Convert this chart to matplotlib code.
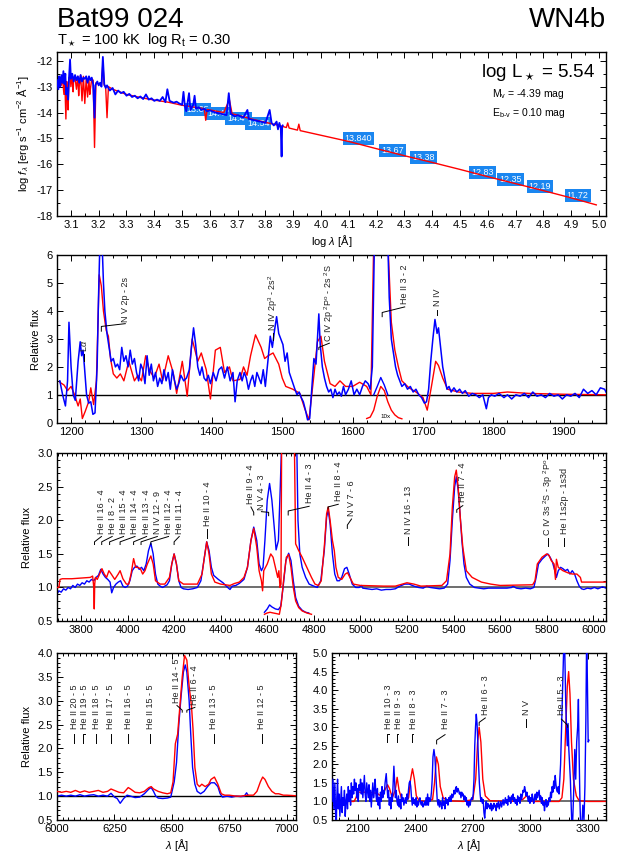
import matplotlib
matplotlib.use('Agg')
import matplotlib.pyplot as plt
from matplotlib.ticker import MultipleLocator, FormatStrFormatter

plt.rcParams['font.family'] = ['Liberation Sans', 'DejaVu Sans']
plt.rcParams['mathtext.fontset'] = 'custom'
plt.rcParams['mathtext.rm'] = 'Liberation Sans'
plt.rcParams['mathtext.it'] = 'Liberation Sans:italic'
plt.rcParams['axes.unicode_minus'] = False

RED = '#ff0000'
BLUE = '#0000ff'
BOX = '#1a86f0'

# ---------------- datos (lambda, flujo) ----------------
# SED: log lambda, log f_lambda
sed_model = [
    (3.050, -12.85), (3.056, -12.75), (3.060, -12.80), (3.065, -12.95), (3.070, -12.70),
    (3.075, -13.30), (3.078, -12.75), (3.082, -14.25), (3.085, -12.80), (3.088, -13.40),
    (3.090, -13.90), (3.093, -12.65), (3.098, -12.60), (3.100, -13.00), (3.105, -12.55),
    (3.108, -13.20), (3.110, -12.70), (3.115, -12.65), (3.120, -13.10), (3.125, -12.60),
    (3.128, -13.35), (3.130, -13.00), (3.135, -12.55), (3.140, -13.55), (3.145, -12.60),
    (3.150, -13.65), (3.155, -12.70), (3.160, -13.40), (3.165, -12.75), (3.168, -13.30),
    (3.170, -13.10), (3.175, -12.70), (3.180, -12.75), (3.185, -15.35), (3.190, -12.85),
    (3.200, -12.90), (3.210, -12.95), (3.215, -12.10), (3.220, -12.95), (3.225, -13.00),
    (3.230, -14.20), (3.235, -13.00), (3.250, -13.10), (3.300, -13.30), (3.350, -13.42),
    (3.400, -13.52), (3.450, -13.60), (3.500, -13.72), (3.550, -13.80), (3.580, -13.85),
    (3.585, -14.30), (3.590, -13.88), (3.650, -14.00), (3.670, -13.50), (3.680, -14.05),
    (3.700, -14.10), (3.750, -14.25), (3.800, -14.38), (3.850, -14.50), (3.875, -14.58),
    (3.880, -14.40), (3.885, -14.60), (3.915, -14.68), (3.920, -14.45), (3.925, -14.70),
    (4.000, -14.88), (4.100, -15.12), (4.200, -15.40), (4.300, -15.67), (4.400, -15.93),
    (4.500, -16.20), (4.600, -16.48), (4.700, -16.75), (4.800, -17.02), (4.900, -17.30),
    (4.990, -17.57),
]
sed_obs = [
    (3.050, -12.75), (3.055, -13.10), (3.058, -12.60), (3.062, -13.00), (3.066, -12.55),
    (3.070, -12.85), (3.073, -12.40), (3.077, -12.90), (3.080, -12.50), (3.083, -13.30),
    (3.086, -13.05), (3.090, -13.50), (3.093, -12.70), (3.097, -11.95), (3.100, -12.70),
    (3.105, -12.50), (3.110, -12.80), (3.115, -12.55), (3.120, -12.75), (3.125, -12.60),
    (3.130, -12.85), (3.135, -12.55), (3.140, -12.80), (3.145, -12.65), (3.150, -12.70),
    (3.155, -12.60), (3.160, -12.85), (3.165, -12.60), (3.170, -12.75), (3.175, -12.65),
    (3.180, -12.90), (3.185, -14.20), (3.188, -12.95), (3.195, -12.80), (3.200, -12.95),
    (3.205, -12.85), (3.210, -13.00), (3.215, -11.85), (3.220, -12.90), (3.225, -13.05),
    (3.230, -12.95), (3.240, -13.15), (3.250, -13.05), (3.260, -13.30), (3.270, -13.15),
    (3.280, -13.25), (3.290, -13.20), (3.300, -13.35), (3.310, -13.28), (3.320, -13.40),
    (3.330, -13.35), (3.340, -13.45), (3.350, -13.38), (3.360, -13.48), (3.370, -13.30),
    (3.380, -13.50), (3.390, -13.45), (3.400, -13.55), (3.410, -13.50), (3.420, -13.55),
    (3.430, -13.40), (3.440, -13.60), (3.447, -13.10), (3.455, -13.55), (3.470, -13.62),
    (3.480, -13.58), (3.490, -13.65), (3.500, -13.70), (3.505, -13.20), (3.510, -13.75),
    (3.515, -13.95), (3.520, -13.60), (3.525, -13.25), (3.530, -13.90), (3.540, -13.70),
    (3.545, -13.35), (3.550, -13.85), (3.560, -13.80), (3.570, -13.90), (3.580, -13.85),
    (3.590, -13.95), (3.600, -13.92), (3.620, -14.00), (3.640, -14.05), (3.660, -14.10),
    (3.668, -13.25), (3.675, -14.05), (3.690, -14.15), (3.700, -14.10), (3.720, -14.20),
    (3.735, -13.90), (3.740, -14.25), (3.760, -14.30), (3.780, -14.35), (3.800, -14.40),
    (3.815, -13.90), (3.822, -14.40), (3.830, -14.50), (3.840, -14.35), (3.845, -14.65),
    (3.850, -14.40), (3.855, -14.60), (3.858, -15.70), (3.860, -14.55), (3.862, -14.50),
]
phot_logl = [3.556, 3.630, 3.702, 3.774, 4.134, 4.257, 4.368, 4.581, 4.682, 4.787, 4.923]
phot_logf = [-13.89, -14.02, -14.23, -14.41, -15.02, -15.45, -15.74, -16.32, -16.58, -16.87, -17.21]
phot_text = ['13.68', '14.44', '14.46', '14.54', '13.840', '13.67', '13.38',
             '12.83', '12.35', '12.19', '11.72']

uv_model = [
    (1184, 1.45), (1190, 1.35), (1195, 1.15), (1200, 1.30), (1205, 1.00), (1210, 0.60),
    (1213, 0.85), (1216, 0.15), (1220, 0.40), (1225, 0.75), (1228, 1.25), (1232, 0.65),
    (1236, 1.50), (1240, 5.30), (1243, 4.90), (1246, 4.00), (1250, 3.30), (1253, 3.10),
    (1256, 2.30), (1260, 1.75), (1265, 1.60), (1270, 1.75), (1275, 1.50), (1282, 2.20),
    (1290, 1.50), (1295, 1.70), (1300, 1.50), (1306, 2.40), (1311, 1.90), (1318, 1.60),
    (1325, 2.10), (1330, 1.50), (1338, 2.40), (1345, 1.80), (1350, 1.05), (1358, 2.20),
    (1365, 0.95), (1372, 3.00), (1380, 2.20), (1385, 2.50), (1392, 1.90), (1398, 0.85),
    (1405, 2.60), (1412, 2.70), (1418, 1.80), (1425, 2.00), (1430, 1.50), (1440, 1.55),
    (1445, 2.00), (1450, 1.70), (1455, 2.40), (1462, 3.15), (1470, 2.70), (1475, 2.30),
    (1480, 2.40), (1487, 2.50), (1495, 2.10), (1500, 1.60), (1505, 1.30), (1515, 1.20),
    (1525, 1.05), (1532, 0.50), (1538, 0.10), (1545, 1.70), (1550, 2.90), (1555, 3.10),
    (1560, 2.20), (1568, 1.40), (1575, 1.30), (1582, 1.50), (1590, 1.30), (1600, 1.30),
    (1610, 1.45), (1620, 1.30), (1626, 1.00), (1630, 6.50), (1650, 6.50), (1655, 3.60),
    (1660, 2.60), (1665, 2.00), (1670, 1.50), (1680, 1.25), (1690, 1.10), (1700, 0.90),
    (1706, 0.45), (1712, 1.30), (1718, 2.20), (1722, 2.05), (1728, 1.60), (1735, 1.20),
    (1750, 1.10), (1770, 1.05), (1800, 1.05), (1820, 1.10), (1850, 1.05), (1900, 1.02),
    (1960, 1.00),
]
uv_obs = [
    (1184, 1.5), (1188, 1.0), (1192, 0.6), (1195, 1.5), (1197, 3.6), (1200, 2.0), (1203, 1.0),
    (1206, 0.8), (1210, 2.2), (1213, 2.9), (1215, 2.4), (1217, 2.6), (1219, 2.0), (1222, 1.0),
    (1225, 0.7), (1228, 0.75), (1231, 0.3), (1234, 0.35), (1237, 2.0), (1239, 4.5), (1241, 6.5),
    (1244, 6.5), (1246, 5.0), (1248, 4.0), (1251, 3.2), (1254, 2.7), (1257, 2.2), (1260, 2.3),
    (1263, 2.0), (1266, 2.1), (1269, 1.9), (1272, 2.7), (1275, 2.2), (1278, 2.4), (1281, 2.0),
    (1284, 2.6), (1287, 2.1), (1290, 2.3), (1293, 1.8), (1296, 1.5), (1299, 2.1), (1302, 1.9),
    (1305, 1.4), (1308, 2.4), (1311, 1.7), (1314, 2.1), (1317, 1.5), (1320, 1.8), (1323, 1.3),
    (1326, 1.6), (1329, 1.4), (1332, 1.9), (1335, 1.5), (1338, 1.8), (1341, 1.2), (1344, 1.9),
    (1347, 1.5), (1350, 1.2), (1353, 1.4), (1356, 1.7), (1360, 1.5), (1364, 1.6), (1368, 1.9),
    (1371, 2.7), (1374, 3.4), (1377, 2.8), (1380, 2.0), (1383, 1.7), (1386, 2.0), (1389, 1.6),
    (1392, 1.5), (1395, 1.7), (1398, 1.4), (1402, 1.8), (1406, 1.5), (1410, 1.9), (1414, 2.0),
    (1418, 1.6), (1422, 2.0), (1426, 1.5), (1430, 1.8), (1433, 0.75), (1436, 1.5), (1440, 1.8),
    (1443, 1.5), (1446, 1.8), (1449, 1.6), (1452, 1.2), (1455, 1.5), (1458, 1.7), (1461, 1.3),
    (1464, 1.8), (1467, 1.6), (1470, 1.4), (1473, 1.9), (1476, 1.3), (1480, 2.3), (1483, 3.1),
    (1486, 2.7), (1489, 3.3), (1492, 3.8), (1495, 3.2), (1498, 3.0), (1501, 2.8), (1504, 2.2),
    (1507, 2.5), (1510, 1.8), (1514, 1.5), (1518, 1.2), (1521, 1.0), (1524, 1.1), (1527, 0.9),
    (1530, 0.75), (1533, 0.45), (1536, 0.1), (1539, 0.15), (1542, 1.2), (1545, 2.3), (1548, 2.1),
    (1550, 3.0), (1552, 3.9), (1554, 2.8), (1557, 2.0), (1560, 1.6), (1563, 1.3), (1566, 1.1),
    (1569, 1.2), (1572, 0.9), (1575, 1.2), (1578, 1.0), (1581, 1.1), (1584, 0.95), (1587, 1.3),
    (1590, 1.0), (1594, 1.2), (1598, 1.5), (1602, 1.0), (1606, 1.2), (1610, 1.0), (1614, 1.3),
    (1618, 1.5), (1622, 1.4), (1625, 1.2), (1628, 2.0), (1631, 6.5), (1650, 6.5), (1652, 4.5),
    (1655, 3.0), (1658, 2.5), (1661, 2.0), (1664, 1.7), (1667, 1.5), (1670, 1.3), (1674, 1.4),
    (1678, 1.2), (1682, 1.3), (1686, 1.1), (1690, 1.2), (1694, 1.0), (1698, 0.9), (1702, 0.7),
    (1705, 0.75), (1708, 1.2), (1711, 2.2), (1714, 3.0), (1717, 3.7), (1720, 3.2), (1722, 3.4),
    (1725, 2.7), (1728, 2.0), (1731, 1.6), (1734, 1.2), (1737, 1.3), (1740, 1.1), (1744, 1.25),
    (1748, 1.1), (1752, 1.2), (1756, 1.05), (1760, 1.15), (1765, 0.95), (1770, 1.05), (1775, 1.0),
    (1780, 0.9), (1785, 1.0), (1790, 0.5), (1793, 0.9), (1797, 1.0), (1802, 0.95), (1808, 1.05),
    (1815, 0.9), (1820, 1.0), (1826, 0.85), (1832, 1.0), (1838, 0.95), (1844, 1.05), (1850, 0.9),
    (1856, 1.1), (1862, 0.95), (1868, 1.0), (1874, 0.9), (1880, 1.05), (1886, 0.95), (1892, 1.0),
    (1898, 0.85), (1904, 1.0), (1910, 0.95), (1916, 1.05), (1922, 0.9), (1928, 1.2), (1934, 1.05),
    (1940, 1.15), (1946, 1.0), (1952, 1.25), (1958, 1.2), (1960, 1.1),
]
uv_inset_model = [
    (1620, 0.15), (1625, 0.20), (1630, 0.45), (1635, 0.95), (1640, 1.30), (1645, 1.15),
    (1650, 0.75), (1655, 0.45), (1660, 0.28), (1665, 0.18), (1670, 0.14),
]
uv_inset_obs = [(1630, 1.0), (1635, 1.3), (1640, 1.62), (1645, 1.35), (1650, 1.0)]

opt_model = [
    (3697, 1.00), (3705, 1.00), (3710, 1.12), (3720, 1.13), (3760, 1.13), (3800, 1.14),
    (3840, 1.15), (3850, 1.17), (3855, 1.00), (3857, 0.68), (3859, 1.05), (3862, 1.15),
    (3870, 1.12), (3880, 1.20), (3890, 1.28), (3900, 1.20), (3910, 1.15), (3920, 1.25),
    (3930, 1.20), (3945, 1.12), (3960, 1.20), (3968, 1.25), (3980, 1.13), (3995, 1.05),
    (4005, 1.05), (4015, 1.20), (4026, 1.43), (4035, 1.30), (4045, 1.30), (4055, 1.28),
    (4065, 1.20), (4075, 1.25), (4085, 1.35), (4100, 1.47), (4110, 1.35), (4120, 1.10),
    (4140, 1.05), (4160, 1.05), (4180, 1.15), (4190, 1.35), (4200, 1.50), (4210, 1.35),
    (4220, 1.10), (4240, 1.05), (4260, 1.05), (4300, 1.05), (4320, 1.20), (4330, 1.45),
    (4340, 1.68), (4350, 1.50), (4360, 1.20), (4375, 1.08), (4400, 1.05), (4440, 1.03),
    (4460, 1.06), (4480, 1.08), (4500, 1.15), (4515, 1.30), (4530, 1.70), (4542, 1.88),
    (4555, 1.60), (4565, 1.25), (4575, 1.10), (4580, 0.95), (4585, 1.25), (4600, 1.35),
    (4615, 1.50), (4625, 1.45), (4635, 1.30), (4645, 1.15), (4650, 1.25), (4655, 1.00),
    (4659, 1.05), (4662, 3.30), (4716, 3.30), (4722, 1.65), (4735, 1.55), (4750, 1.45),
    (4770, 1.30), (4790, 1.15), (4805, 1.05), (4820, 1.03), (4832, 1.10), (4845, 1.60),
    (4855, 2.10), (4862, 2.20), (4870, 2.00), (4880, 1.70), (4888, 1.55), (4895, 1.30),
    (4905, 1.15), (4920, 1.12), (4935, 1.20), (4945, 1.22), (4955, 1.15), (4970, 1.05),
    (5000, 1.03), (5100, 1.02), (5150, 1.02), (5180, 1.05), (5200, 1.07), (5230, 1.05),
    (5260, 1.02), (5350, 1.03), (5370, 1.10), (5385, 1.50), (5395, 2.20), (5405, 2.65),
    (5412, 2.75), (5420, 2.50), (5430, 2.00), (5440, 1.60), (5455, 1.25), (5480, 1.15),
    (5520, 1.08), (5560, 1.05), (5600, 1.03), (5740, 1.04), (5750, 1.10), (5760, 1.35),
    (5780, 1.45), (5800, 1.50), (5810, 1.48), (5820, 1.40), (5832, 1.35), (5838, 1.12),
    (5842, 1.42), (5850, 1.30), (5870, 1.25), (5890, 1.22), (5910, 1.20), (5930, 1.20),
    (5945, 1.15), (5950, 1.08), (5990, 1.08), (6070, 1.08),
]
opt_obs = [
    (3697, 0.90), (3705, 0.95), (3715, 0.93), (3725, 0.98), (3735, 0.96), (3745, 1.00),
    (3755, 0.98), (3765, 1.03), (3775, 1.00), (3785, 1.05), (3795, 1.03), (3805, 1.07),
    (3815, 1.05), (3825, 1.10), (3835, 1.08), (3845, 1.12), (3855, 1.10), (3865, 1.15),
    (3875, 1.18), (3885, 1.27), (3895, 1.20), (3905, 1.15), (3915, 1.12), (3925, 1.08),
    (3932, 0.92), (3940, 1.00), (3950, 1.05), (3960, 1.08), (3970, 1.10), (3980, 1.02),
    (3990, 1.00), (4000, 1.02), (4010, 1.10), (4020, 1.25), (4030, 1.30), (4040, 1.32),
    (4050, 1.27), (4060, 1.30), (4070, 1.25), (4080, 1.35), (4090, 1.55), (4100, 1.66),
    (4110, 1.50), (4120, 1.20), (4130, 1.05), (4140, 1.02), (4150, 1.00), (4160, 1.02),
    (4170, 1.04), (4180, 1.10), (4190, 1.35), (4200, 1.50), (4210, 1.35), (4220, 1.10),
    (4230, 1.00), (4240, 0.98), (4260, 0.97), (4280, 0.98), (4300, 1.00), (4315, 1.10),
    (4330, 1.45), (4340, 1.68), (4350, 1.55), (4360, 1.30), (4370, 1.18), (4380, 1.15),
    (4390, 1.12), (4410, 1.07), (4430, 1.00), (4440, 0.97), (4450, 1.02), (4465, 1.03),
    (4480, 1.06), (4500, 1.12), (4515, 1.30), (4530, 1.70), (4542, 1.90), (4555, 1.70),
    (4565, 1.35), (4575, 1.25), (4582, 1.30), (4590, 1.70), (4600, 2.30), (4610, 2.55),
    (4620, 2.30), (4630, 1.90), (4638, 1.56), (4648, 1.70), (4656, 2.50), (4663, 3.30),
    (4726, 3.30), (4732, 2.00), (4740, 1.50), (4750, 1.30), (4765, 1.15), (4780, 1.05),
    (4800, 1.02), (4815, 1.00), (4830, 1.10), (4845, 1.55), (4855, 2.05), (4862, 2.15),
    (4870, 1.95), (4880, 1.50), (4890, 1.20), (4900, 1.10), (4910, 1.10), (4920, 1.15),
    (4932, 1.28), (4942, 1.30), (4952, 1.20), (4965, 1.05), (4980, 1.00), (4995, 1.00),
    (5005, 1.03), (5010, 0.99), (5030, 0.98), (5050, 0.97), (5070, 0.98), (5090, 0.96),
    (5110, 0.97), (5130, 0.97), (5150, 0.98), (5170, 1.02), (5190, 1.05), (5210, 1.05),
    (5230, 1.02), (5250, 1.00), (5270, 0.99), (5285, 1.02), (5300, 1.00), (5320, 0.99),
    (5340, 0.98), (5360, 0.99), (5375, 1.05), (5385, 1.40), (5395, 2.00), (5405, 2.50),
    (5412, 2.65), (5420, 2.45), (5428, 2.10), (5436, 1.70), (5445, 1.35), (5455, 1.15),
    (5470, 1.05), (5490, 1.00), (5510, 0.99), (5530, 0.98), (5550, 0.99), (5590, 0.99),
    (5630, 0.99), (5650, 1.00), (5655, 1.02), (5670, 0.99), (5690, 0.98), (5710, 0.99),
    (5730, 0.98), (5745, 1.00), (5755, 1.15), (5765, 1.35), (5780, 1.42), (5795, 1.47),
    (5805, 1.50), (5815, 1.45), (5825, 1.38), (5835, 1.25), (5842, 1.15), (5850, 1.25),
    (5860, 1.30), (5870, 1.28), (5880, 1.25), (5890, 1.27), (5900, 1.20), (5910, 1.25),
    (5920, 1.20), (5930, 1.10), (5940, 1.02), (5950, 0.98), (5960, 0.97), (5975, 0.99),
    (5990, 0.98), (6005, 1.00), (6020, 0.98), (6040, 1.01), (6055, 0.99), (6070, 1.00),
]
opt_inset_model = [
    (4588, 0.60), (4600, 0.62), (4612, 0.63), (4625, 0.62), (4640, 0.61), (4652, 0.60),
    (4660, 0.75), (4670, 1.10), (4682, 1.45), (4692, 1.49), (4702, 1.30), (4712, 1.00),
    (4722, 0.80), (4735, 0.70), (4750, 0.65), (4770, 0.62), (4790, 0.60),
]
opt_inset_obs = [
    (4588, 0.63), (4600, 0.68), (4610, 0.74), (4620, 0.71), (4635, 0.68), (4648, 0.67),
    (4658, 0.72), (4668, 1.00), (4680, 1.40), (4692, 1.51), (4702, 1.40), (4712, 1.10),
    (4722, 0.85), (4735, 0.72), (4750, 0.66), (4765, 0.63), (4778, 0.62),
]

red_model = [
    (6000, 1.10), (6020, 1.08), (6040, 1.10), (6060, 1.08), (6080, 1.12), (6100, 1.08),
    (6120, 1.11), (6140, 1.08), (6160, 1.10), (6180, 1.12), (6200, 1.08), (6220, 1.10),
    (6235, 1.15), (6250, 1.12), (6270, 1.08), (6290, 1.07), (6310, 1.18), (6320, 1.15),
    (6340, 1.08), (6360, 1.07), (6380, 1.10), (6400, 1.18), (6410, 1.20), (6420, 1.15),
    (6440, 1.10), (6460, 1.07), (6480, 1.05), (6495, 1.07), (6505, 1.30), (6515, 2.10),
    (6525, 2.30), (6535, 2.90), (6545, 3.50), (6555, 3.95), (6565, 3.85), (6575, 3.30),
    (6585, 2.90), (6592, 2.40), (6600, 1.60), (6610, 1.25), (6620, 1.20), (6630, 1.25),
    (6645, 1.20), (6660, 1.25), (6670, 1.35), (6685, 1.40), (6700, 1.25), (6715, 1.05),
    (6730, 1.02), (6750, 1.02), (6780, 1.00), (6800, 1.00), (6830, 1.02), (6855, 1.02),
    (6870, 1.10), (6885, 1.30), (6895, 1.40), (6905, 1.35), (6920, 1.20), (6935, 1.10),
    (6950, 1.05), (6965, 1.05), (6985, 1.02), (7000, 1.02), (7070, 1.00),
]
red_obs = [
    (6000, 1.00), (6020, 1.02), (6040, 1.00), (6060, 1.02), (6080, 1.00), (6100, 1.03),
    (6120, 1.00), (6140, 1.02), (6160, 1.03), (6180, 1.00), (6200, 1.02), (6220, 1.00),
    (6235, 1.06), (6250, 0.98), (6262, 0.95), (6275, 0.85), (6290, 0.95), (6305, 1.02),
    (6320, 1.00), (6340, 0.97), (6360, 0.98), (6380, 1.05), (6400, 1.15), (6410, 1.18),
    (6420, 1.10), (6430, 1.00), (6440, 0.96), (6460, 0.95), (6480, 0.96), (6495, 0.98),
    (6510, 1.30), (6520, 1.70), (6530, 2.50), (6540, 3.10), (6550, 3.60), (6558, 3.75),
    (6565, 3.60), (6575, 3.00), (6582, 2.30), (6590, 1.60), (6600, 1.25), (6610, 1.10),
    (6625, 1.05), (6640, 1.10), (6655, 1.20), (6670, 1.28), (6685, 1.28), (6700, 1.20),
    (6710, 1.05), (6720, 0.98), (6740, 1.00), (6760, 0.98), (6780, 1.00), (6800, 0.99),
    (6815, 1.00), (6825, 1.07), (6830, 1.03),
]

nuv_model = [
    (1965, 1.00), (2080, 1.00), (2090, 1.10), (2100, 1.25), (2150, 1.25), (2200, 1.22),
    (2220, 1.15), (2240, 1.30), (2255, 1.45), (2265, 1.35), (2280, 1.10), (2295, 1.30),
    (2305, 1.65), (2315, 1.30), (2330, 1.05), (2350, 1.00), (2365, 1.10), (2375, 1.60),
    (2385, 1.88), (2395, 1.60), (2405, 1.15), (2420, 1.02), (2450, 1.00), (2490, 1.05),
    (2500, 1.50), (2510, 2.20), (2520, 2.00), (2530, 1.40), (2545, 1.10), (2570, 1.02),
    (2650, 1.00), (2700, 1.05), (2715, 1.60), (2725, 2.60), (2733, 3.00), (2742, 2.60),
    (2752, 1.60), (2765, 1.15), (2790, 1.02), (2900, 1.00), (2960, 1.05), (2980, 1.15),
    (2995, 1.10), (3010, 1.00), (3150, 1.00), (3165, 1.10), (3175, 1.60), (3185, 3.00),
    (3193, 4.10), (3200, 4.50), (3207, 3.90), (3215, 2.60), (3225, 1.60), (3240, 1.15),
    (3255, 1.02), (3300, 1.00), (3400, 1.00),
]
nuv_obs = [
    (1965, 1.0), (1970, 1.6), (1975, 0.8), (1980, 1.5), (1984, 0.55), (1987, 0.2), (1990, 1.1),
    (1994, 1.6), (1998, 0.8), (2002, 1.2), (2006, 0.6), (2010, 1.0), (2014, 1.4), (2018, 0.7),
    (2022, 1.1), (2026, 0.9), (2030, 1.3), (2034, 0.6), (2038, 1.0), (2042, 1.2), (2046, 0.8),
    (2050, 1.4), (2054, 1.0), (2058, 1.3), (2062, 0.9), (2066, 1.5), (2070, 1.1), (2074, 1.4),
    (2078, 1.2), (2082, 1.6), (2086, 1.3), (2090, 1.5), (2094, 1.1), (2098, 1.35), (2102, 1.0),
    (2106, 1.45), (2110, 1.3), (2114, 1.6), (2118, 1.2), (2122, 1.5), (2126, 1.1), (2130, 1.4),
    (2134, 1.7), (2138, 1.2), (2142, 1.0), (2146, 1.5), (2150, 1.3), (2154, 1.1), (2158, 1.45),
    (2162, 1.0), (2166, 1.3), (2170, 0.85), (2174, 1.2), (2178, 1.5), (2182, 1.1), (2186, 1.3),
    (2190, 1.6), (2194, 1.2), (2198, 1.0), (2202, 1.35), (2206, 0.9), (2210, 1.1), (2214, 0.8),
    (2218, 1.25), (2222, 1.0), (2226, 1.4), (2230, 1.1), (2234, 1.3), (2238, 1.2), (2242, 1.5),
    (2248, 1.75), (2252, 1.4), (2256, 1.1), (2260, 1.3), (2264, 0.9), (2268, 1.1), (2272, 0.8),
    (2276, 1.2), (2280, 1.0), (2284, 1.5), (2288, 1.95), (2292, 1.5), (2296, 1.1), (2300, 1.3),
    (2304, 1.0), (2308, 0.9), (2312, 1.15), (2316, 0.85), (2320, 1.05), (2324, 0.8), (2328, 1.2),
    (2332, 1.0), (2336, 1.1), (2340, 0.9), (2344, 1.0), (2348, 1.1), (2352, 0.95), (2356, 1.2),
    (2360, 1.05), (2364, 1.3), (2368, 1.5), (2372, 1.55), (2376, 1.4), (2380, 1.1), (2384, 0.9),
    (2388, 1.1), (2392, 0.95), (2396, 1.05), (2400, 0.9), (2404, 1.1), (2408, 0.85), (2412, 1.0),
    (2416, 0.9), (2420, 1.05), (2424, 1.1), (2428, 0.95), (2432, 0.9), (2436, 1.0), (2440, 0.85),
    (2444, 0.9), (2448, 1.0), (2452, 0.9), (2456, 1.1), (2460, 0.9), (2464, 1.2), (2468, 0.9),
    (2472, 1.1), (2476, 1.0), (2480, 1.05), (2484, 1.25), (2488, 1.6), (2492, 2.2), (2497, 2.4),
    (2502, 2.2), (2506, 1.8), (2510, 1.4), (2514, 1.05), (2518, 0.9), (2522, 1.05), (2526, 0.85),
    (2530, 1.0), (2534, 0.95), (2538, 0.8), (2542, 1.1), (2546, 0.9), (2550, 1.0), (2554, 0.8),
    (2558, 1.1), (2562, 0.95), (2566, 1.05), (2570, 0.9), (2574, 1.1), (2578, 1.0), (2582, 1.15),
    (2586, 1.0), (2590, 1.2), (2594, 1.1), (2598, 1.15), (2602, 1.3), (2606, 1.2), (2610, 1.35),
    (2614, 1.4), (2618, 1.25), (2622, 1.35), (2626, 1.3), (2630, 1.2), (2634, 1.25), (2638, 1.1),
    (2642, 1.25), (2646, 1.15), (2650, 1.2), (2654, 1.05), (2658, 1.15), (2662, 1.0), (2666, 1.1),
    (2670, 0.9), (2674, 1.0), (2678, 0.85), (2682, 1.0), (2686, 0.9), (2690, 1.05), (2694, 1.1),
    (2698, 1.05), (2702, 1.2), (2706, 1.6), (2710, 2.5), (2714, 3.0), (2718, 3.35), (2722, 3.1),
    (2726, 2.6), (2730, 2.0), (2734, 1.5), (2738, 1.2), (2742, 1.0), (2746, 1.1), (2750, 0.95),
    (2754, 1.05), (2758, 0.7), (2762, 0.55), (2766, 0.85), (2770, 1.0), (2774, 0.8), (2778, 0.95),
    (2782, 0.85), (2786, 0.9), (2790, 0.8), (2794, 0.95), (2798, 0.75), (2802, 0.9), (2806, 0.8),
    (2810, 0.95), (2814, 0.85), (2818, 0.9), (2822, 0.75), (2826, 0.95), (2830, 0.85), (2834, 1.0),
    (2838, 0.8), (2842, 0.9), (2846, 1.0), (2850, 0.85), (2854, 0.95), (2858, 1.05), (2862, 0.9),
    (2866, 1.0), (2870, 1.1), (2874, 0.95), (2878, 1.05), (2882, 0.9), (2886, 1.15), (2890, 1.0),
    (2894, 1.1), (2898, 0.95), (2902, 1.15), (2906, 1.05), (2910, 1.2), (2914, 1.0), (2918, 1.1),
    (2922, 0.95), (2926, 1.05), (2930, 0.9), (2934, 1.15), (2938, 1.0), (2942, 1.1), (2946, 0.95),
    (2950, 1.2), (2954, 1.05), (2958, 1.15), (2962, 1.3), (2966, 1.25), (2970, 1.4), (2974, 1.3),
    (2978, 1.15), (2982, 1.25), (2986, 1.1), (2990, 1.0), (2994, 1.15), (2998, 0.95), (3002, 1.1),
    (3006, 1.0), (3010, 1.2), (3014, 1.05), (3018, 0.95), (3022, 1.1), (3026, 1.2), (3030, 1.05),
    (3034, 1.25), (3038, 1.1), (3042, 1.2), (3046, 1.3), (3050, 1.05), (3054, 1.15), (3058, 0.95),
    (3062, 1.1), (3066, 0.9), (3070, 1.0), (3074, 0.75), (3078, 0.95), (3082, 1.05), (3086, 0.85),
    (3090, 1.0), (3094, 0.9), (3098, 1.1), (3102, 1.0), (3106, 1.25), (3110, 1.1), (3114, 1.4),
    (3118, 1.25), (3122, 1.55), (3126, 1.35), (3130, 1.7), (3134, 1.45), (3138, 1.3), (3142, 1.25),
    (3146, 1.4), (3150, 1.2), (3154, 1.6), (3158, 2.0), (3162, 2.8), (3166, 3.6), (3170, 4.3),
    (3175, 5.3), (3180, 5.0), (3185, 3.6), (3189, 3.0), (3193, 2.5), (3197, 3.1), (3201, 2.4),
    (3205, 2.0), (3209, 1.6), (3213, 0.9), (3217, 0.3), (3221, 0.45), (3226, 1.2), (3232, 2.4),
    (3237, 1.6), (3242, 2.6), (3247, 3.0), (3251, 3.75), (3255, 2.2), (3259, 1.0), (3263, 0.3),
    (3268, 0.2), (3274, 0.9), (3280, 0.5), (3285, 1.4), (3290, 3.2), (3294, 5.5), (3298, 4.2),
    (3302, 2.6), (3306, 2.65),
]

# identificaciones de lineas: texto, lambda linea, lambda texto, y0, y1, y2, y texto
uv_ids = [
    (r'L$\alpha$', 1219, 1219, 2.2, 2.45, 2.45, 2.55),
    ('N V 2p - 2s', 1243, 1277, 3.28, 3.45, 3.55, 3.62),
    (r'N IV 2p$^3$ - 2s$^2$', 1487, 1487, 2.95, 3.2, 3.2, 3.3),
    (r'C IV 2p $^2$P$^{\rm o}$ - 2s $^2$S', 1552, 1567, 2.62, 2.7, 2.85, 2.9),
    ('He II 3 - 2', 1642, 1674, 3.8, 3.95, 4.15, 4.25),
    ('N IV', 1720, 1720, 3.85, 4.05, 4.05, 4.2),
]
opt_ids = [
    ('He II 16 - 4', 3858, 3888, 1.64, 1.68, 1.76, 1.80),
    ('He I 8 - 2', 3889, 3934, 1.64, 1.68, 1.76, 1.80),
    ('He II 15 - 4', 3923, 3983, 1.64, 1.68, 1.76, 1.80),
    ('He II 14 - 4', 3968, 4032, 1.64, 1.68, 1.76, 1.80),
    ('He II 13 - 4', 4026, 4082, 1.64, 1.68, 1.76, 1.80),
    ('N IV 12 - 9', 4058, 4128, 1.64, 1.68, 1.76, 1.80),
    ('He II 12 - 4', 4100, 4176, 1.64, 1.68, 1.76, 1.80),
    ('He II 11 - 4', 4200, 4222, 1.64, 1.68, 1.76, 1.80),
    ('He II 10 - 4', 4340, 4343, 1.74, 1.87, 1.87, 1.91),
    ('He II 9 - 4', 4542, 4530, 2.08, 2.12, 2.20, 2.24),
    ('N V 4 - 3', 4606, 4575, 2.07, 2.12, 2.13, 2.16),
    ('He II 4 - 3', 4690, 4780, 2.08, 2.14, 2.21, 2.26),
    ('He II 8 - 4', 4861, 4905, 2.17, 2.20, 2.24, 2.29),
    ('N V 7 - 6', 4944, 4962, 1.88, 1.93, 2.02, 2.07),
    ('N IV 16 - 13', 5203, 5205, 1.64, 1.75, 1.75, 1.79),
    ('He II 7 - 4', 5414, 5440, 2.12, 2.16, 2.22, 2.27),
    (r'C IV 3s $^2$S - 3p $^2$P$^{\rm o}$', 5806, 5806, 1.62, 1.74, 1.74, 1.77),
    ('He I 1s2p - 1s3d', 5876, 5876, 1.62, 1.74, 1.74, 1.79),
]
red_ids = [
    ('He II 20 - 5', 6074, 6074, 2.12, 2.30, 2.30, 2.41),
    ('He II 19 - 5', 6113, 6120, 2.12, 2.30, 2.30, 2.41),
    ('He II 18 - 5', 6171, 6171, 2.12, 2.30, 2.30, 2.41),
    ('He II 17 - 5', 6234, 6234, 2.12, 2.30, 2.30, 2.41),
    ('He II 16 - 5', 6311, 6311, 2.12, 2.30, 2.30, 2.41),
    ('He II 15 - 5', 6406, 6406, 2.12, 2.30, 2.30, 2.41),
    ('He II 14 - 5', 6545, 6522, 2.76, 2.80, 2.90, 2.95),
    ('He II 6 - 4', 6565, 6600, 2.76, 2.80, 2.86, 2.92),
    ('He II 13 - 5', 6683, 6683, 2.12, 2.30, 2.30, 2.41),
    ('He II 12 - 5', 6891, 6891, 2.12, 2.30, 2.30, 2.41),
]
nuv_ids = [
    ('He II 10 - 3', 2253, 2262, 2.59, 2.82, 2.82, 2.95),
    ('He II 9 - 3', 2306, 2312, 2.59, 2.82, 2.82, 2.95),
    ('He II 8 - 3', 2385, 2388, 2.59, 2.82, 2.82, 2.95),
    ('He II 7 - 3', 2511, 2555, 2.55, 2.65, 2.80, 2.95),
    ('He II 6 - 3', 2733, 2765, 3.05, 3.13, 3.25, 3.32),
    ('N V', 2980, 2980, 3.00, 3.23, 3.23, 3.32),
    ('He II 5 - 3', 3195, 3162, 3.00, 3.05, 3.22, 3.32),
]


def estilo(ax, xmaj, xmin, ymaj, ymin, yfmt=None):
    ax.xaxis.set_major_locator(MultipleLocator(xmaj))
    ax.xaxis.set_minor_locator(MultipleLocator(xmin))
    ax.yaxis.set_major_locator(MultipleLocator(ymaj))
    ax.yaxis.set_minor_locator(MultipleLocator(ymin))
    if yfmt:
        ax.yaxis.set_major_formatter(FormatStrFormatter(yfmt))
    ax.tick_params(which='both', direction='in', top=True, right=True,
                   labelsize=8, width=0.7, pad=3)
    ax.tick_params(which='major', length=4.5)
    ax.tick_params(which='minor', length=2.5)
    for s in ax.spines.values():
        s.set_linewidth(1.0)


def curva(ax, pares, color, lw=1.0, z=2):
    x = [p[0] for p in pares]
    y = [p[1] for p in pares]
    ax.plot(x, y, color=color, lw=lw, zorder=z)


def marcar(ax, ids, fs=6.5):
    for txt, lam, lamt, y0, y1, y2, yt in ids:
        ax.plot([lam, lam, lamt], [y0, y1, y2], color='k', lw=0.7, zorder=4)
        ax.text(lamt, yt, txt, rotation=90, ha='center', va='bottom',
                fontsize=fs, color='#222222', zorder=4)


fig = plt.figure(figsize=(6.26, 8.58), dpi=100)

fig.text(57 / 626, 1 - 27 / 858, 'Bat99 024', fontsize=20, va='baseline')
fig.text(606 / 626, 1 - 27 / 858, 'WN4b', fontsize=20, va='baseline', ha='right')
fig.text(57 / 626, 1 - 44 / 858, r'T$_\star$ = 100 kK  log R$_{\rm t}$ = 0.30',
         fontsize=10.5, va='baseline')

# ---- SED ----
ax1 = fig.add_axes([57 / 626, 1 - 216 / 858, 549 / 626, 164 / 858])
for lx, lf, t in zip(phot_logl, phot_logf, phot_text):
    ax1.text(lx, lf, t, color='white', fontsize=6.5, ha='center', va='center', zorder=1,
             bbox=dict(boxstyle='square,pad=0.22', fc=BOX, ec='none'))
curva(ax1, sed_model, RED, z=2)
curva(ax1, sed_obs, BLUE, lw=1.3, z=3)
ax1.set_xlim(3.05, 5.025)
ax1.set_ylim(-18, -11.66)
estilo(ax1, 0.1, 0.05, 1, 0.5)
ax1.xaxis.set_major_formatter(FormatStrFormatter('%.1f'))
ax1.set_xlabel(r'log $\lambda$ [Å]', fontsize=8, labelpad=2)
ax1.set_ylabel(r'log $f_\lambda$ [erg s$^{-1}$ cm$^{-2}$ Å$^{-1}$]', fontsize=8, labelpad=4)
ax1.text(0.98, 0.845, r'log L$_\star$ = 5.54', transform=ax1.transAxes, fontsize=13.5,
         ha='right', va='baseline')
ax1.text(0.792, 0.745, r'M$_{\rm v}$ = -4.39 mag', transform=ax1.transAxes, fontsize=7.5,
         va='center')
ax1.text(0.792, 0.63, r'E$_{\rm b\text{-}v}$ = 0.10 mag', transform=ax1.transAxes,
         fontsize=7.5, va='center')

# ---- UV ----
ax2 = fig.add_axes([57 / 626, 1 - 422.7 / 858, 549 / 626, 167.4 / 858])
ax2.axhline(1.0, color='k', lw=1.0, zorder=1)
curva(ax2, uv_model, RED)
curva(ax2, uv_obs, BLUE, lw=1.1, z=3)
curva(ax2, uv_inset_model, RED)
curva(ax2, uv_inset_obs, BLUE, z=3)
ax2.text(1647, 0.22, '10x', fontsize=4.5, ha='center', va='center')
marcar(ax2, uv_ids)
ax2.set_xlim(1180, 1960)
ax2.set_ylim(0, 6)
estilo(ax2, 100, 20, 1, 0.5)
ax2.set_ylabel('Relative flux', fontsize=8, labelpad=4)

# ---- optico ----
ax3 = fig.add_axes([57 / 626, 1 - 621 / 858, 549 / 626, 167.7 / 858])
ax3.axhline(1.0, color='#555555', lw=1.2, zorder=1)
curva(ax3, opt_obs, BLUE)
curva(ax3, opt_model, RED, z=3)
curva(ax3, opt_inset_obs, BLUE)
curva(ax3, opt_inset_model, RED, z=3)
marcar(ax3, opt_ids)
ax3.set_xlim(3697, 6055)
ax3.set_ylim(0.5, 3.0)
estilo(ax3, 200, 20, 0.5, 0.1, '%.1f')
ax3.set_ylabel('Relative flux', fontsize=8, labelpad=4)

# ---- rojo ----
ax4 = fig.add_axes([57 / 626, 1 - 820 / 858, 239 / 626, 167 / 858])
ax4.axhline(1.0, color='k', lw=1.0, zorder=1)
curva(ax4, red_obs, BLUE)
curva(ax4, red_model, RED, z=3)
marcar(ax4, red_ids)
ax4.set_xlim(6000, 7040)
ax4.set_ylim(0.5, 4.0)
estilo(ax4, 250, 25, 0.5, 0.1, '%.1f')
ax4.set_ylabel('Relative flux', fontsize=8, labelpad=4)
ax4.set_xlabel(r'$\lambda$ [Å]', fontsize=8, labelpad=2)

# ---- UV cercano ----
ax5 = fig.add_axes([332 / 626, 1 - 820 / 858, 274 / 626, 167 / 858])
ax5.axhline(1.0, color='#555555', lw=1.2, zorder=1)
curva(ax5, nuv_model, RED)
curva(ax5, nuv_obs, BLUE, z=3)
marcar(ax5, nuv_ids)
ax5.set_xlim(1965, 3395)
ax5.set_ylim(0.5, 5.0)
estilo(ax5, 300, 50, 0.5, 0.1, '%.1f')
ax5.set_xlabel(r'$\lambda$ [Å]', fontsize=8, labelpad=2)

fig.savefig('out.png', dpi=100)
